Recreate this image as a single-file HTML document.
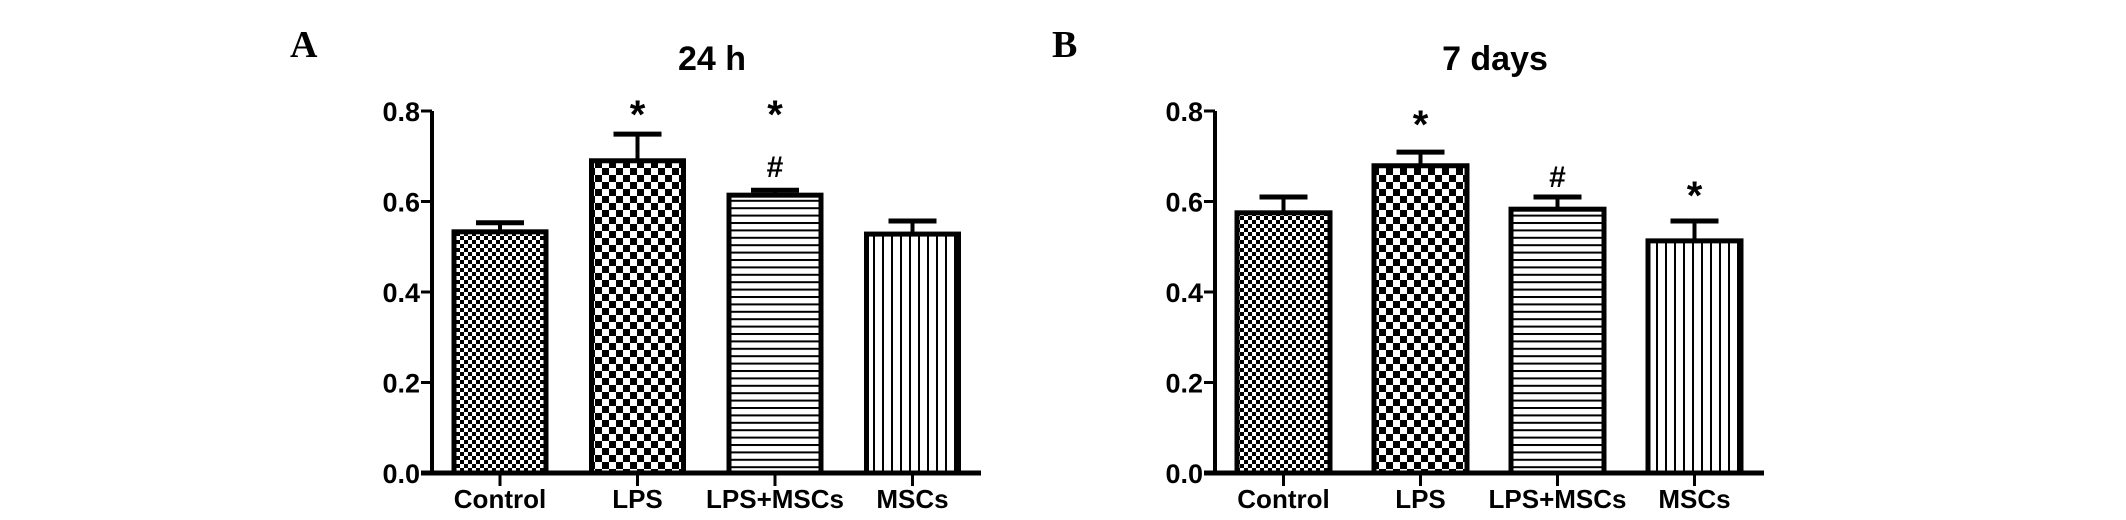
<!DOCTYPE html>
<html><head><meta charset="utf-8"><style>
html,body{margin:0;padding:0;background:#fff;}
svg{display:block;}
text{font-family:"Liberation Sans",Arial,sans-serif;font-weight:bold;fill:#000;}
.pl{font-family:"Liberation Serif","Times New Roman",serif;}
</style></head><body>
<svg id="chart" width="2126" height="520" viewBox="0 0 2126 520" xmlns="http://www.w3.org/2000/svg">
<defs>
<pattern id="pFine" width="8" height="8" patternUnits="userSpaceOnUse"><rect width="8" height="8" fill="#fff"/><rect x="0" y="0" width="4" height="4" fill="#000"/><rect x="4" y="4" width="4" height="4" fill="#000"/></pattern>
<pattern id="pCoarse" width="14" height="14" patternUnits="userSpaceOnUse"><rect width="14" height="14" fill="#fff"/><rect x="0" y="0" width="7" height="7" fill="#000"/><rect x="7" y="7" width="7" height="7" fill="#000"/></pattern>
<pattern id="pHor" width="10" height="7.4" patternUnits="userSpaceOnUse"><rect width="10" height="7.4" fill="#fff"/><rect x="0" y="0" width="10" height="2" fill="#000"/></pattern>
<pattern id="pVer" width="9" height="10" patternUnits="userSpaceOnUse"><rect width="9" height="10" fill="#fff"/><rect x="0" y="0" width="2" height="10" fill="#000"/></pattern>
</defs>
<g id="root"></g>
</svg>
<script>
const categories = ["Control","LPS","LPS+MSCs","MSCs"];
const valuesA = [0.533,0.690,0.614,0.528];
const errorsA = [0.020,0.059,0.011,0.029];
const valuesB = [0.575,0.679,0.583,0.513];
const errorsB = [0.035,0.030,0.027,0.044];
// significance marker heights (data units); null = none
const starA = [null,0.811,0.811,null];
const hashA = [null,null,0.678,null];
const starB = [null,0.789,null,0.632];
const hashB = [null,null,0.656,null];
const tickLabels = ["0.0","0.2","0.4","0.6","0.8"];
const tickValues = [0,0.2,0.4,0.6,0.8];

const NS="http://www.w3.org/2000/svg";
const root=document.getElementById('root');
const fills=["url(#pFine)","url(#pCoarse)","url(#pHor)","url(#pVer)"];
function mk(tag,attrs,parent){const e=document.createElementNS(NS,tag);for(const k in attrs)e.setAttribute(k,attrs[k]);(parent||root).appendChild(e);return e;}
const Y0=473, Y1=111;
function yScale(v){return Y0-(v/0.8)*(Y0-Y1);}

function panel(cfg){
  const g=mk('g',{});
  
  
  const xAt=i=>cfg.firstBar+i*cfg.step;
  const lab=mk('text',{x:cfg.letterX,y:57,'font-size':38,class:'pl'},g);
  lab.textContent=cfg.letter;
  
  
  const t=mk('text',{x:cfg.titleX,y:70,'font-size':34,'text-anchor':'middle'},g);
  t.textContent=cfg.title;
  
  
  cfg.values.forEach((v,i)=>{
    const x=xAt(i), w=cfg.barW, top=yScale(v), eTop=yScale(v+cfg.errors[i]), cx=x+w/2;
    const eb=mk('line',{x1:cx,x2:cx,y1:top,y2:eTop,stroke:'#000','stroke-width':4},g);
    
    
    const cap=mk('line',{x1:cx-24,x2:cx+24,y1:eTop,y2:eTop,stroke:'#000','stroke-width':5},g);
    
    
    const r=mk('rect',{x:x,y:top,width:w,height:Y0-top,fill:fills[i],stroke:'#000','stroke-width':5},g);
    
    
    const tk=mk('line',{x1:cx,x2:cx,y1:Y0,y2:Y0+13,stroke:'#000','stroke-width':3},g);
    
    
    const cl=mk('text',{x:cx,y:508,'font-size':26,'text-anchor':'middle'},g);
    cl.textContent=categories[i];
    
    
    if(cfg.hash[i]!==null){
      const h=mk('text',{x:cx,y:yScale(cfg.hash[i])+11,'font-size':30,'font-weight':'normal','text-anchor':'middle'},g);
      h.textContent='#';
      
      
    }
    if(cfg.star[i]!==null){
      const s=mk('text',{x:cx,y:yScale(cfg.star[i])+22,'font-size':40,'font-weight':'normal','text-anchor':'middle'},g);
      s.textContent='*';
      
      
    }
  });
  const ya=mk('line',{x1:cfg.axisX,x2:cfg.axisX,y1:Y1,y2:Y0+2,stroke:'#000','stroke-width':4},g);
  
  
  const xa=mk('line',{x1:cfg.axisX-11,x2:cfg.axisEnd,y1:Y0,y2:Y0,stroke:'#000','stroke-width':5},g);
  
  
  tickValues.forEach((v,i)=>{
    const y=yScale(v);
    const tk=mk('line',{x1:cfg.axisX-11,x2:cfg.axisX,y1:y,y2:y,stroke:'#000','stroke-width':3},g);
    
    
    const tl=mk('text',{x:cfg.axisX-12,y:y+10,'font-size':27,'text-anchor':'end'},g);
    tl.textContent=tickLabels[i];
    
    
  });
}
panel({name:'panel-a-24h',letter:'A',letterX:290,title:'24 h',titleX:712,values:valuesA,errors:errorsA,star:starA,hash:hashA,axisX:432,axisEnd:981,firstBar:454,step:137.5,barW:92});
panel({name:'panel-b-7days',letter:'B',letterX:1052,title:'7 days',titleX:1495,values:valuesB,errors:errorsB,star:starB,hash:hashB,axisX:1215,axisEnd:1764,firstBar:1237,step:137,barW:93});
</script>
</body></html>
